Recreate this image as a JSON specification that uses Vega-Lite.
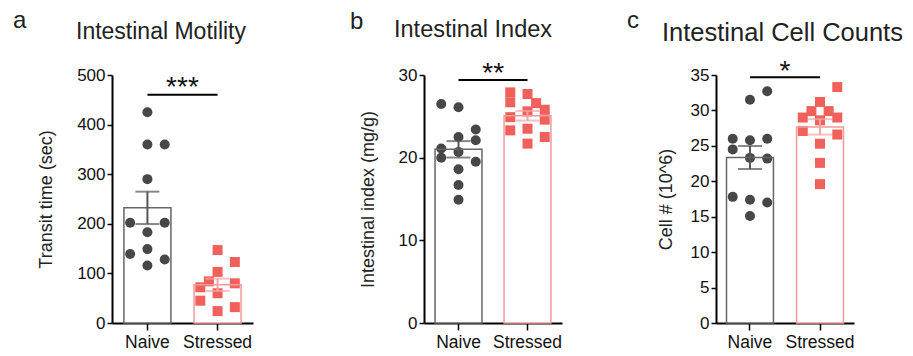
{
  "$schema": "https://vega.github.io/schema/vega-lite/v6.json",
  "padding": {"left": 13, "top": 8, "right": 5, "bottom": 5},
  "background": "white",
  "spacing": 97,
  "config": {
    "font": "Liberation Sans",
    "view": {"stroke": null},
    "axis": {"grid": false, "domainColor": "black", "domainWidth": 2, "tickColor": "black", "tickWidth": 1.5, "labelFontSize": 17, "labelColor": "#111111", "titleFontSize": 18, "titleFontWeight": "normal", "titleColor": "#222222", "labelOverlap": false},
    "axisX": {"tickSize": 7, "labelPadding": 3, "labelAngle": 0, "labelFontSize": 17.5},
    "axisY": {"tickSize": 5, "labelPadding": 2},
    "title": {"fontSize": 23, "fontWeight": "normal", "color": "#222222", "anchor": "start", "frame": "group"}
  },
  "datasets": {
    "motility": [
      {"group": "Naive", "value": 425, "lane": 0},
      {"group": "Naive", "value": 360, "lane": 0},
      {"group": "Naive", "value": 360, "lane": 2},
      {"group": "Naive", "value": 290, "lane": 0},
      {"group": "Naive", "value": 202, "lane": -2},
      {"group": "Naive", "value": 202, "lane": 2},
      {"group": "Naive", "value": 183, "lane": 0},
      {"group": "Naive", "value": 149, "lane": 0},
      {"group": "Naive", "value": 139, "lane": -2},
      {"group": "Naive", "value": 128, "lane": 2},
      {"group": "Naive", "value": 116, "lane": 0},
      {"group": "Stressed", "value": 147, "lane": 0},
      {"group": "Stressed", "value": 123, "lane": 2},
      {"group": "Stressed", "value": 103, "lane": 0},
      {"group": "Stressed", "value": 84, "lane": -1},
      {"group": "Stressed", "value": 80, "lane": 2},
      {"group": "Stressed", "value": 72, "lane": -2},
      {"group": "Stressed", "value": 60, "lane": 0},
      {"group": "Stressed", "value": 45, "lane": -2},
      {"group": "Stressed", "value": 32, "lane": 2},
      {"group": "Stressed", "value": 24, "lane": 0}
    ],
    "index": [
      {"group": "Naive", "value": 26.5, "lane": -2},
      {"group": "Naive", "value": 26.1, "lane": 0},
      {"group": "Naive", "value": 23.4, "lane": 2},
      {"group": "Naive", "value": 22.5, "lane": 0},
      {"group": "Naive", "value": 22.1, "lane": 2},
      {"group": "Naive", "value": 21.1, "lane": -2},
      {"group": "Naive", "value": 20.7, "lane": 0},
      {"group": "Naive", "value": 20.0, "lane": -2},
      {"group": "Naive", "value": 19.5, "lane": 2},
      {"group": "Naive", "value": 18.6, "lane": 0},
      {"group": "Naive", "value": 16.7, "lane": 0},
      {"group": "Naive", "value": 14.9, "lane": 0},
      {"group": "Stressed", "value": 27.9, "lane": -2},
      {"group": "Stressed", "value": 26.7, "lane": -2},
      {"group": "Stressed", "value": 24.9, "lane": -2},
      {"group": "Stressed", "value": 23.3, "lane": -2},
      {"group": "Stressed", "value": 27.7, "lane": 0},
      {"group": "Stressed", "value": 25.6, "lane": 0},
      {"group": "Stressed", "value": 23.5, "lane": 0},
      {"group": "Stressed", "value": 21.7, "lane": 0},
      {"group": "Stressed", "value": 26.6, "lane": 1},
      {"group": "Stressed", "value": 25.8, "lane": 2},
      {"group": "Stressed", "value": 24.6, "lane": 2},
      {"group": "Stressed", "value": 22.5, "lane": 2}
    ],
    "cells": [
      {"group": "Naive", "value": 32.7, "lane": 2},
      {"group": "Naive", "value": 31.5, "lane": 0},
      {"group": "Naive", "value": 26.0, "lane": -2},
      {"group": "Naive", "value": 26.0, "lane": 2},
      {"group": "Naive", "value": 25.8, "lane": 0},
      {"group": "Naive", "value": 24.5, "lane": -2},
      {"group": "Naive", "value": 23.3, "lane": 0},
      {"group": "Naive", "value": 23.2, "lane": 2},
      {"group": "Naive", "value": 17.8, "lane": -2},
      {"group": "Naive", "value": 17.4, "lane": 0},
      {"group": "Naive", "value": 17.0, "lane": 2},
      {"group": "Naive", "value": 15.1, "lane": 0},
      {"group": "Stressed", "value": 33.3, "lane": 2},
      {"group": "Stressed", "value": 31.2, "lane": 0},
      {"group": "Stressed", "value": 29.9, "lane": -1},
      {"group": "Stressed", "value": 29.9, "lane": 1},
      {"group": "Stressed", "value": 29.0, "lane": -2},
      {"group": "Stressed", "value": 29.0, "lane": 2},
      {"group": "Stressed", "value": 28.6, "lane": 0},
      {"group": "Stressed", "value": 27.1, "lane": -2},
      {"group": "Stressed", "value": 26.6, "lane": 2},
      {"group": "Stressed", "value": 25.3, "lane": 0},
      {"group": "Stressed", "value": 22.6, "lane": 0},
      {"group": "Stressed", "value": 19.6, "lane": 0}
    ]
  },
  "hconcat": [
    {
      "title": {"text": "a", "fontSize": 24, "dx": -99, "dy": 16},
      "hconcat": [
        {
          "title": {"text": "Intestinal Motility", "dx": -36, "dy": -18},
          "width": 141, "height": 248,
          "data": {"name": "motility"},
          "encoding": {"x": {"field": "group", "type": "nominal", "sort": ["Naive", "Stressed"], "scale": {"domain": ["Naive", "Stressed"], "paddingInner": 0.33, "paddingOuter": 0.17}, "axis": {"title": null}}},
          "layer": [
            {"mark": {"type": "bar", "fill": "white"}, "encoding": {"y": {"aggregate": "mean", "field": "value", "type": "quantitative", "title": "Transit time (sec)", "scale": {"domain": [0, 500]}, "axis": {"values": [0, 100, 200, 300, 400, 500], "titlePadding": 21, "labelOverlap": false}}}},
            {"mark": {"type": "point", "filled": true, "opacity": 1, "size": 100}, "encoding": {"y": {"field": "value", "type": "quantitative", "title": "Transit time (sec)", "axis": {"values": [0, 100, 200, 300, 400, 500], "titlePadding": 21, "labelOverlap": false}}, "xOffset": {"field": "lane", "type": "nominal", "scale": {"domain": [-2, -1, 0, 1, 2], "paddingInner": 0, "paddingOuter": 0.72}}, "shape": {"field": "group", "type": "nominal", "scale": {"domain": ["Naive", "Stressed"], "range": ["circle", "square"]}, "legend": null}, "color": {"field": "group", "type": "nominal", "scale": {"domain": ["Naive", "Stressed"], "range": ["#474747", "#f0615b"]}, "legend": null}}},
            {"mark": {"type": "bar", "fillOpacity": 0, "strokeWidth": 1.5}, "encoding": {"y": {"aggregate": "mean", "field": "value", "type": "quantitative", "title": "Transit time (sec)", "axis": {"values": [0, 100, 200, 300, 400, 500], "titlePadding": 21, "labelOverlap": false}}, "stroke": {"field": "group", "type": "nominal", "scale": {"domain": ["Naive", "Stressed"], "range": ["#666666", "#f49a9a"]}, "legend": null}}},
            {"mark": {"type": "errorbar", "extent": "stderr", "ticks": {"size": 24, "thickness": 2}, "thickness": 2}, "encoding": {"y": {"field": "value", "type": "quantitative", "title": "Transit time (sec)", "axis": {"values": [0, 100, 200, 300, 400, 500], "titlePadding": 21, "labelOverlap": false}}, "color": {"field": "group", "type": "nominal", "scale": {"domain": ["Naive", "Stressed"], "range": ["#555555", "#f5a5a5"]}, "legend": null}}},
            {"data": {"values": [{"group": "Naive", "value": 460}, {"group": "Stressed", "value": 460}]}, "mark": {"type": "line", "color": "black", "strokeWidth": 2}, "encoding": {"y": {"field": "value", "type": "quantitative", "title": "Transit time (sec)", "axis": {"values": [0, 100, 200, 300, 400, 500], "titlePadding": 21, "labelOverlap": false}}}},
            {"data": {"values": [{"group": "Naive", "value": 460, "stars": "***"}]}, "mark": {"type": "text", "fontSize": 28, "baseline": "alphabetic", "dy": 1, "color": "#111111"}, "encoding": {"x": {"field": "group", "type": "nominal", "bandPosition": 1.245}, "y": {"field": "value", "type": "quantitative", "title": "Transit time (sec)", "axis": {"values": [0, 100, 200, 300, 400, 500], "titlePadding": 21, "labelOverlap": false}}, "text": {"field": "stars"}}}
          ],
          "resolve": {"scale": {"color": "independent", "xOffset": "independent"}}
        }
      ]
    },
    {
      "spacing": 65,
      "hconcat": [
        {
          "title": {"text": "b", "fontSize": 24, "dx": -74, "dy": 20},
          "hconcat": [
            {
              "title": {"text": "Intestinal Index", "dx": -30, "dy": -14, "fontSize": 23.5},
              "width": 138, "height": 248,
              "data": {"name": "index"},
              "encoding": {"x": {"field": "group", "type": "nominal", "sort": ["Naive", "Stressed"], "scale": {"domain": ["Naive", "Stressed"], "paddingInner": 0.32, "paddingOuter": 0.16}, "axis": {"title": null}}},
              "layer": [
                {"mark": {"type": "bar", "fill": "white"}, "encoding": {"y": {"aggregate": "mean", "field": "value", "type": "quantitative", "title": "Intestinal index (mg/g)", "scale": {"domain": [0, 30]}, "axis": {"values": [0, 10, 20, 30], "titlePadding": 21, "labelOverlap": false}}}},
                {"mark": {"type": "point", "filled": true, "opacity": 1, "size": 100}, "encoding": {"y": {"field": "value", "type": "quantitative", "title": "Intestinal index (mg/g)", "axis": {"values": [0, 10, 20, 30], "titlePadding": 21, "labelOverlap": false}}, "xOffset": {"field": "lane", "type": "nominal", "scale": {"domain": [-2, -1, 0, 1, 2], "paddingInner": 0, "paddingOuter": 0.72}}, "shape": {"field": "group", "type": "nominal", "scale": {"domain": ["Naive", "Stressed"], "range": ["circle", "square"]}, "legend": null}, "color": {"field": "group", "type": "nominal", "scale": {"domain": ["Naive", "Stressed"], "range": ["#474747", "#f0615b"]}, "legend": null}}},
                {"mark": {"type": "bar", "fillOpacity": 0, "strokeWidth": 1.5}, "encoding": {"y": {"aggregate": "mean", "field": "value", "type": "quantitative", "title": "Intestinal index (mg/g)", "axis": {"values": [0, 10, 20, 30], "titlePadding": 21, "labelOverlap": false}}, "stroke": {"field": "group", "type": "nominal", "scale": {"domain": ["Naive", "Stressed"], "range": ["#666666", "#f49a9a"]}, "legend": null}}},
                {"mark": {"type": "errorbar", "extent": "stderr", "ticks": {"size": 24, "thickness": 2}, "thickness": 2}, "encoding": {"y": {"field": "value", "type": "quantitative", "title": "Intestinal index (mg/g)", "axis": {"values": [0, 10, 20, 30], "titlePadding": 21, "labelOverlap": false}}, "color": {"field": "group", "type": "nominal", "scale": {"domain": ["Naive", "Stressed"], "range": ["#555555", "#f5a5a5"]}, "legend": null}}},
                {"data": {"values": [{"group": "Naive", "value": 29.4}, {"group": "Stressed", "value": 29.4}]}, "mark": {"type": "line", "color": "black", "strokeWidth": 2}, "encoding": {"y": {"field": "value", "type": "quantitative", "title": "Intestinal index (mg/g)", "axis": {"values": [0, 10, 20, 30], "titlePadding": 21, "labelOverlap": false}}}},
                {"data": {"values": [{"group": "Naive", "value": 29.4, "stars": "**"}]}, "mark": {"type": "text", "fontSize": 28, "baseline": "alphabetic", "dy": 2, "color": "#111111"}, "encoding": {"x": {"field": "group", "type": "nominal", "bandPosition": 1.24}, "y": {"field": "value", "type": "quantitative", "title": "Intestinal index (mg/g)", "axis": {"values": [0, 10, 20, 30], "titlePadding": 21, "labelOverlap": false}}, "text": {"field": "stars"}}}
              ],
              "resolve": {"scale": {"color": "independent", "xOffset": "independent"}}
            }
          ]
        },
        {
          "title": {"text": "c", "fontSize": 24, "dx": -89, "dy": 16},
          "hconcat": [
            {
              "title": {"text": "Intestinal Cell Counts", "dx": -54, "dy": -8, "fontSize": 25.5},
              "width": 138, "height": 248,
              "data": {"name": "cells"},
              "encoding": {"x": {"field": "group", "type": "nominal", "sort": ["Naive", "Stressed"], "scale": {"domain": ["Naive", "Stressed"], "paddingInner": 0.33, "paddingOuter": 0.15}, "axis": {"title": null}}},
              "layer": [
                {"mark": {"type": "bar", "fill": "white"}, "encoding": {"y": {"aggregate": "mean", "field": "value", "type": "quantitative", "title": "Cell # (10^6)", "scale": {"domain": [0, 35]}, "axis": {"values": [0, 5, 10, 15, 20, 25, 30, 35], "titlePadding": 15, "labelOverlap": false}}}},
                {"mark": {"type": "point", "filled": true, "opacity": 1, "size": 100}, "encoding": {"y": {"field": "value", "type": "quantitative", "title": "Cell # (10^6)", "axis": {"values": [0, 5, 10, 15, 20, 25, 30, 35], "titlePadding": 15, "labelOverlap": false}}, "xOffset": {"field": "lane", "type": "nominal", "scale": {"domain": [-2, -1, 0, 1, 2], "paddingInner": 0, "paddingOuter": 0.72}}, "shape": {"field": "group", "type": "nominal", "scale": {"domain": ["Naive", "Stressed"], "range": ["circle", "square"]}, "legend": null}, "color": {"field": "group", "type": "nominal", "scale": {"domain": ["Naive", "Stressed"], "range": ["#474747", "#f0615b"]}, "legend": null}}},
                {"mark": {"type": "bar", "fillOpacity": 0, "strokeWidth": 1.5}, "encoding": {"y": {"aggregate": "mean", "field": "value", "type": "quantitative", "title": "Cell # (10^6)", "axis": {"values": [0, 5, 10, 15, 20, 25, 30, 35], "titlePadding": 15, "labelOverlap": false}}, "stroke": {"field": "group", "type": "nominal", "scale": {"domain": ["Naive", "Stressed"], "range": ["#666666", "#f49a9a"]}, "legend": null}}},
                {"mark": {"type": "errorbar", "extent": "stderr", "ticks": {"size": 24, "thickness": 2}, "thickness": 2}, "encoding": {"y": {"field": "value", "type": "quantitative", "title": "Cell # (10^6)", "axis": {"values": [0, 5, 10, 15, 20, 25, 30, 35], "titlePadding": 15, "labelOverlap": false}}, "color": {"field": "group", "type": "nominal", "scale": {"domain": ["Naive", "Stressed"], "range": ["#555555", "#f5a5a5"]}, "legend": null}}},
                {"data": {"values": [{"group": "Naive", "value": 34.7}, {"group": "Stressed", "value": 34.7}]}, "mark": {"type": "line", "color": "black", "strokeWidth": 2}, "encoding": {"y": {"field": "value", "type": "quantitative", "title": "Cell # (10^6)", "axis": {"values": [0, 5, 10, 15, 20, 25, 30, 35], "titlePadding": 15, "labelOverlap": false}}}},
                {"data": {"values": [{"group": "Naive", "value": 34.7, "stars": "*"}]}, "mark": {"type": "text", "fontSize": 28, "baseline": "alphabetic", "dy": 3, "color": "#111111"}, "encoding": {"x": {"field": "group", "type": "nominal", "bandPosition": 1.245}, "y": {"field": "value", "type": "quantitative", "title": "Cell # (10^6)", "axis": {"values": [0, 5, 10, 15, 20, 25, 30, 35], "titlePadding": 15, "labelOverlap": false}}, "text": {"field": "stars"}}}
              ],
              "resolve": {"scale": {"color": "independent", "xOffset": "independent"}}
            }
          ]
        }
      ]
    }
  ]
}
